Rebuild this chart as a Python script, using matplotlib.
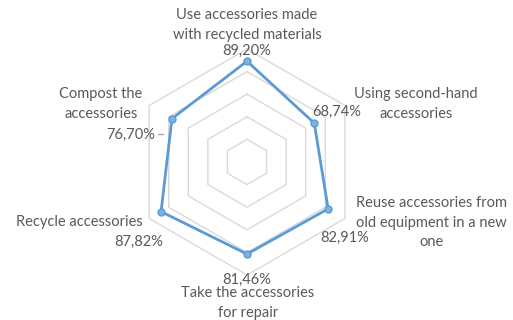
import numpy as np
import matplotlib.pyplot as plt

categories = [
    "Use accessories made\nwith recycled materials",
    "Using second-hand\naccessories",
    "Reuse accessories from\nold equipment in a new\none",
    "Take the accessories\nfor repair",
    "Recycle accessories",
    "Compost the\naccessories",
]
values = [89.20, 68.74, 82.91, 81.46, 87.82, 76.70]
rings = [20, 40, 60, 80, 100]

# layout in pixel units (y downwards); label anchor = centre of first line
cx, cy, R = 247, 162, 113
line_h = 19.5
cat_pos = [(247, 15), (416, 94), (431, 203), (248, 293), (79, 222), (101, 94)]
val_pos = [(247, 51), (337, 112), (345, 238), (247, 280), (139, 242), (131, 135)]

line_c = "#5b9bd5"
grid_c = "#d9d9d9"
text_c = "#595959"
plt.rcParams['font.family'] = ['Lato', 'DejaVu Sans']

fig = plt.figure(figsize=(5.13, 3.2), dpi=100)
ax = fig.add_axes([0, 0, 1, 1])
ax.set_xlim(0, 513)
ax.set_ylim(320, 0)
ax.axis("off")

n = len(values)
ang = np.arange(n) * 2 * np.pi / n

def to_xy(r, a):
    r = np.asarray(r) / 100 * R
    return cx + r * np.sin(a), cy - r * np.cos(a)

# hexagonal grid
for r in rings:
    a = np.append(ang, ang[0])
    x, y = to_xy(np.full(len(a), r), a)
    ax.plot(x, y, color=grid_c, lw=1, zorder=1)

# data series
a = np.append(ang, ang[0])
v = np.append(values, values[0])
x, y = to_xy(v, a)
ax.plot(x, y, color=line_c, lw=2, zorder=3)
ax.plot(x[:-1], y[:-1], "o", ms=5, color=line_c, mfc="#7fb2e0", mec=line_c, mew=1, zorder=4)

# category labels, one text per line
for lab, (tx, ty) in zip(categories, cat_pos):
    for i, part in enumerate(lab.split("\n")):
        ax.text(tx, ty + i * line_h, part, ha="center", va="center",
                fontsize=10.5, color=text_c)

for val, (tx, ty) in zip(values, val_pos):
    ax.text(tx, ty, f"{val:.2f}%".replace(".", ","), ha="center", va="center",
            fontsize=10.5, color=text_c)

# leader line for the compost label
ax.plot([158, 163], [134, 134], color="#a6a6a6", lw=1, zorder=2)

fig.savefig("out.png", dpi=100)
